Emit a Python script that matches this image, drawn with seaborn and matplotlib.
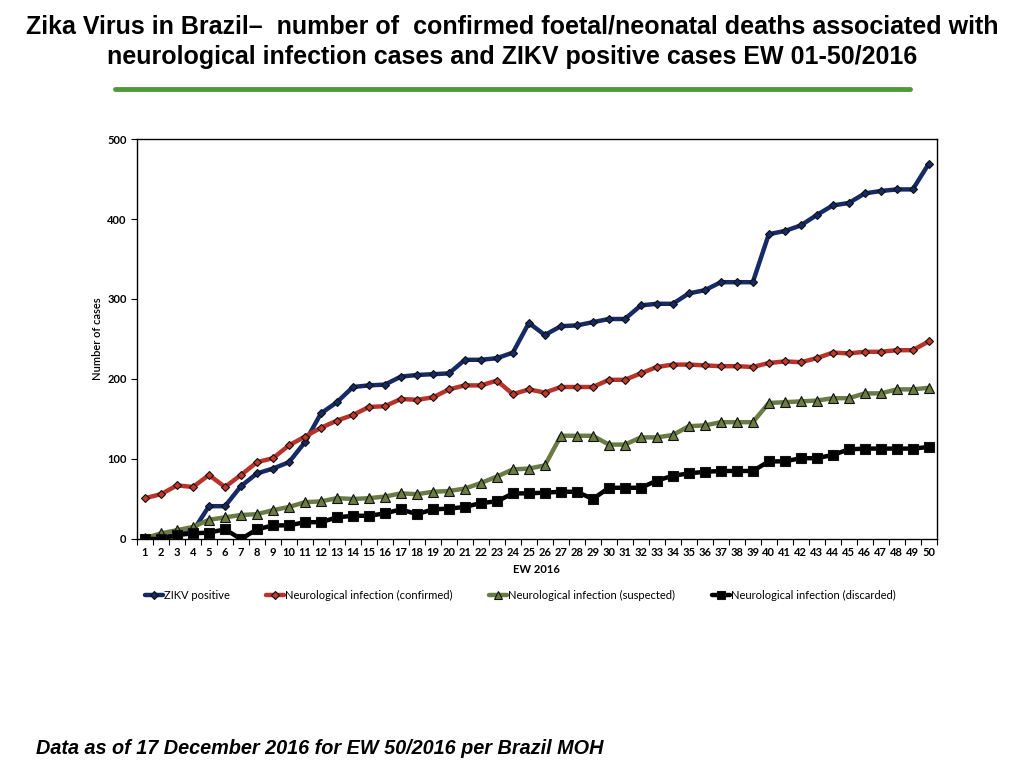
import numpy as np
import pandas as pd
import seaborn as sns
import matplotlib.pyplot as plt
from matplotlib.ticker import MultipleLocator, FixedLocator

weeks = list(range(1, 51))

zikv_positive = [0, 2, 5, 10, 41, 41, 66, 82, 88, 96,
                 121, 157, 171, 190, 192, 193, 203, 205, 206, 207,
                 224, 224, 226, 233, 270, 255, 266, 267, 271, 275,
                 275, 292, 294, 294, 307, 311, 321, 321, 321, 381,
                 385, 392, 405, 417, 420, 432, 435, 437, 437, 469]

neuro_confirmed = [51, 56, 67, 65, 80, 65, 80, 96, 101, 117,
                   128, 139, 148, 155, 165, 166, 175, 174, 177, 187,
                   192, 192, 198, 181, 187, 183, 190, 190, 190, 199,
                   199, 207, 215, 218, 218, 217, 216, 216, 215, 220,
                   222, 221, 226, 233, 232, 234, 234, 236, 236, 247]

neuro_suspected = [1, 7, 11, 15, 24, 27, 30, 31, 36, 40,
                   46, 47, 51, 50, 51, 53, 57, 56, 59, 60,
                   63, 70, 78, 87, 88, 92, 129, 129, 129, 118,
                   118, 127, 127, 130, 141, 142, 146, 146, 146, 170,
                   171, 172, 173, 176, 176, 182, 182, 187, 187, 189]

neuro_discarded = [0, 0, 5, 7, 8, 12, 0, 12, 17, 17,
                   21, 21, 27, 29, 29, 32, 37, 31, 37, 38,
                   40, 45, 47, 57, 57, 58, 59, 59, 50, 64,
                   64, 64, 73, 79, 82, 84, 85, 85, 85, 97,
                   97, 101, 101, 105, 112, 113, 113, 113, 113, 115]

series_names = ["ZIKV positive",
                "Neurological infection (confirmed)",
                "Neurological infection (suspected)",
                "Neurological infection (discarded)"]

sns.set_style("white")
plt.rcParams['font.family'] = ['Lato', 'DejaVu Sans']
for k in ["text.color", "axes.labelcolor", "xtick.color", "ytick.color"]:
    plt.rcParams[k] = "black"

df = pd.DataFrame({
    "week": weeks * 4,
    "cases": zikv_positive + neuro_confirmed + neuro_suspected + neuro_discarded,
    "series": sum([[n] * len(weeks) for n in series_names], []),
})

line_colors = ["#162b66", "#b8342a", "#6a7b44", "#000000"]
marker_faces = ["#162b66", "#c0392b", "#6a7b44", "#000000"]
markers = ["D", "D", "^", "s"]
msizes = [4.5, 4.5, 7, 7.5]

fig = plt.figure(figsize=(10.24, 7.68), dpi=100)
ax = fig.add_axes([0.1338, 0.2982, 0.781, 0.5208])

for i, name in enumerate(series_names):
    sns.lineplot(data=df[df["series"] == name], x="week", y="cases", ax=ax,
                 color=line_colors[i], lw=3.2, marker=markers[i],
                 markersize=msizes[i], markerfacecolor=marker_faces[i],
                 markeredgecolor="#111111", markeredgewidth=0.8,
                 label=name, zorder=3 + i)

ax.set_xlim(0.5, 50.5)
ax.set_ylim(0, 500)
ax.set_xticks(weeks)
ax.set_xticklabels([str(w) for w in weeks], fontsize=8, fontweight="bold")
ax.xaxis.set_minor_locator(FixedLocator(np.arange(0.5, 51, 1)))
ax.tick_params(axis="x", which="major", length=0, pad=6)
ax.tick_params(axis="x", which="minor", length=4, width=0.8, direction="out", bottom=True)
ax.yaxis.set_major_locator(MultipleLocator(100))
ax.tick_params(axis="y", length=4, width=0.8, direction="out", left=True, labelsize=8)
for t in ax.get_yticklabels():
    t.set_fontweight("bold")

for s in ax.spines.values():
    s.set_color("black")
    s.set_linewidth(1.0)

ax.set_xlabel("EW 2016", fontsize=8, fontweight="bold", labelpad=4)
ax.set_ylabel("Number of cases", fontsize=8, fontweight=600, labelpad=3)

handles, labels = ax.get_legend_handles_labels()
ax.get_legend().remove()
fig.legend(handles, labels, loc="center", bbox_to_anchor=(0.508, 0.225), ncol=4,
           frameon=False, fontsize=8, handlelength=1.6, handletextpad=0.1,
           columnspacing=3.3, markerscale=0.8)

title_fonts = ['Liberation Sans', 'DejaVu Sans']
fig.text(0.5, 1 - 27 / 768, "Zika Virus in Brazil–  number of  confirmed foetal/neonatal deaths associated with",
         ha="center", va="center", fontsize=18, fontweight="bold", family=title_fonts)
fig.text(0.5, 1 - 57 / 768, "neurological infection cases and ZIKV positive cases EW 01-50/2016",
         ha="center", va="center", fontsize=18, fontweight="bold", family=title_fonts)
fig.add_artist(plt.Line2D([115 / 1024, 910 / 1024], [1 - 89 / 768] * 2,
                          color="#4e9a3a", lw=3.5, transform=fig.transFigure))

fig.text(36 / 1024, 1 - 749 / 768, "Data as of 17 December 2016 for EW 50/2016 per Brazil MOH",
         ha="left", va="center", fontsize=14.3, fontweight="bold", style="italic",
         family=['Liberation Sans', 'DejaVu Sans'])

fig.savefig("out.png", dpi=100)
